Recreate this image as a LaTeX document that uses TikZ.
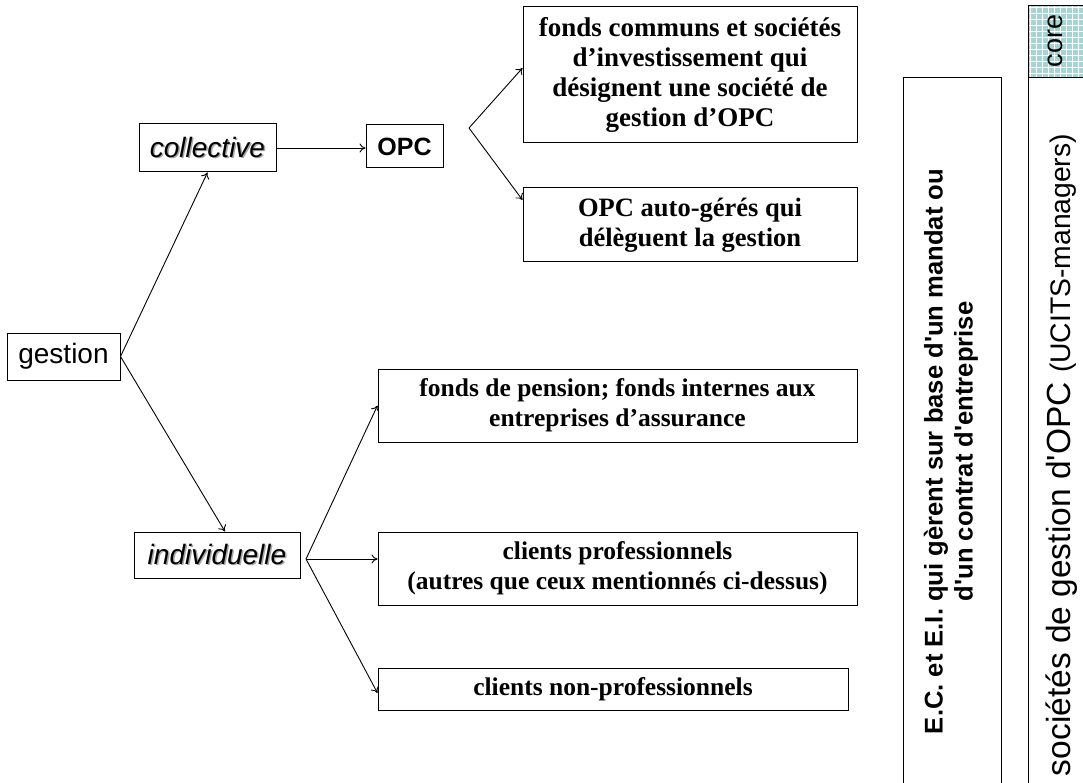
\documentclass[tikz,border=0pt]{standalone}
\usepackage{fontspec}
\setmainfont{Liberation Serif}
\newfontfamily\arialf{Liberation Sans}
\usetikzlibrary{arrows.meta,calc}
\definecolor{coreteal}{RGB}{160,214,214}
\newcommand\shadowtxt[1]{\makebox[0pt][l]{\hspace{1.5pt}\raisebox{-1.5pt}{\color{black!35}#1}}#1}
\begin{document}
\begin{tikzpicture}[x=1pt,y=-1pt, line width=1pt,
  box/.style={draw, rectangle, inner sep=0pt, line width=1pt},
  serifbox/.style={box, align=center, font=\bfseries\fontsize{25.5}{30}\selectfont},
  sansbox/.style={box, font=\arialf\fontsize{28}{32}\selectfont},
  arr/.style={-{To[length=6pt,width=9pt]}, line width=0.9pt},
  rottext/.style={rotate=90, align=center, inner sep=0pt}
  ]
\useasboundingbox (0,0) rectangle (1083,783);
\clip (0,0) rectangle (1083,783);

% left tree
\node[sansbox, minimum width=113pt, minimum height=47pt] (gestion) at (63.5,356.5) {gestion};
\node[sansbox, minimum width=137pt, minimum height=48pt] (coll) at (207.5,148) {\itshape\shadowtxt{collective}};
\node[sansbox, font=\arialf\bfseries\fontsize{25}{28}\selectfont, minimum width=77pt, minimum height=43pt] (opc) at (404.5,146.5) {OPC};
\node[sansbox, minimum width=166pt, minimum height=46pt] (indiv) at (217,555) {\itshape\shadowtxt{individuelle}};

\node[serifbox, font=\bfseries\fontsize{27}{30}\selectfont, minimum width=334pt, minimum height=136pt] (fcs) at (690,75) {fonds communs et sociétés\\d’investissement qui\\désignent une société de\\gestion d’OPC};
\node[serifbox, font=\bfseries\fontsize{26.5}{30}\selectfont, minimum width=334pt, minimum height=74pt] (auto) at (690,225) {OPC auto-gérés qui\\délèguent la gestion};
\node[serifbox, minimum width=479pt, minimum height=73pt] (pens) at (617.5,405.5) {fonds de pension; fonds internes aux\\entreprises d’assurance};
\node[serifbox, minimum width=479pt, minimum height=73pt] (pro) at (617.5,568.5) {clients professionnels\\(autres que ceux mentionnés ci-dessus)};
\node[serifbox, minimum width=470pt, minimum height=42pt] (nonpro) at (613,689) {clients non-professionnels};

\coordinate (opcfork) at (469,128);
\coordinate (indfork) at (306,559);

\draw[arr] (gestion.east) -- (coll.south);
\draw[arr] (gestion.east) -- ($(indiv.north)+(8,0)$);
\draw[arr] (coll.east) -- (coll.east -| opc.west);
\draw[arr] (opcfork) -- ($(fcs.west)+(0,-7)$);
\draw[arr] (opcfork) -- ($(auto.west)+(0,-25)$);
\draw[arr] (indfork) -- (pens.west);
\draw[arr] (indfork) -- (indfork -| pro.west);
\draw[arr] (indfork) -- ($(nonpro.west)+(0,4)$);

% right columns
\node[box, minimum width=98pt, minimum height=740pt, anchor=north west] (ecbox) at (903,77) {};
\node[rottext, font=\arialf\bfseries\fontsize{25.6}{30}\selectfont] (ectext) at (951,451.5) {E.C. et E.I. qui gèrent sur base d'un mandat ou\\d'un contrat d'entreprise};

\node[box, minimum width=80pt, minimum height=740pt, anchor=north west] (ucbox) at (1028,77) {};
\node[box, minimum width=80pt, minimum height=72pt, anchor=north west, fill=coreteal,
  path picture={
    \foreach \k in {0,...,16} {
      \draw[white, line width=1.1pt] ($(path picture bounding box.north west)+(\k*6+2,0)$) -- ++(0,80);
      \draw[white, line width=1.1pt] ($(path picture bounding box.north west)+(0,\k*6+2)$) -- ++(90,0);
    }
  }] (core) at (1028,5) {};
\node[rottext, font=\arialf\fontsize{27}{30}\selectfont] (coretext) at (1055,41) {core};
\node[rottext, font=\arialf\fontsize{33.5}{36}\selectfont] (uctext) at (1062,455) {sociétés de gestion d'OPC {\fontsize{28.3}{30}\selectfont(UCITS-managers)}};
\end{tikzpicture}
\end{document}
